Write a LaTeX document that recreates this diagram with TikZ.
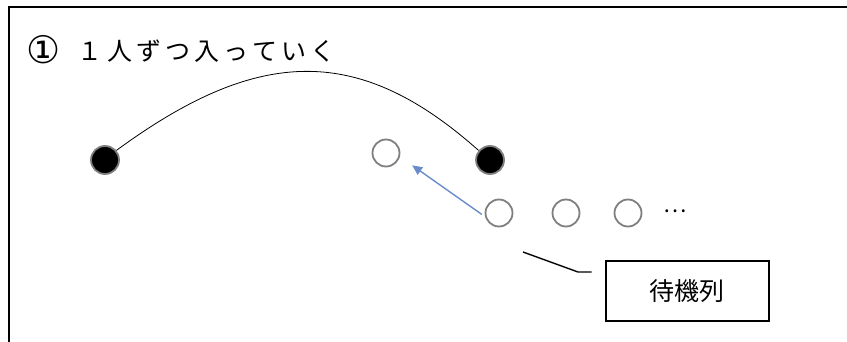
\documentclass[tikz,border=0pt]{standalone}
\usepackage{fontspec}
\newfontfamily\jpfont{Noto Sans CJK JP}
\newfontfamily\circfont{DejaVu Sans}
\usetikzlibrary{arrows.meta}
\definecolor{ringgray}{HTML}{7F7F7F}
\definecolor{arrowblue}{HTML}{6A8CCB}
\begin{document}
\begin{tikzpicture}[x=1pt, y=-1pt,
    seated/.style={circle, fill=black, draw=ringgray, line width=1.8pt, minimum size=28pt, inner sep=0pt},
    guest/.style={circle, fill=white, draw=ringgray, line width=1.8pt, minimum size=27pt, inner sep=0pt},
    label box/.style={draw, line width=2pt, minimum width=163pt, minimum height=60pt, font=\jpfont\fontsize{25}{28}\selectfont}]
\useasboundingbox (0,0) rectangle (847,342);
\draw[line width=1.3pt] (9,342) -- (9,7) -- (847,7);
\node[anchor=west, inner sep=0pt, font=\jpfont\fontsize{25}{28}\selectfont] (title) at (26,50)
    {{\circfont\fontsize{38}{40}\selectfont\raisebox{-0.08em}{①}}\hspace{17pt}１\hspace{5pt}人\hspace{4pt}ず\hspace{4pt}つ\hspace{4pt}入\hspace{4pt}っ\hspace{4pt}て\hspace{4pt}い\hspace{4pt}く};
\node[seated] (left) at (105,160) {};
\node[seated] (right) at (490,160) {};
\draw[line width=0.8pt] (left.40) .. controls (260,45) and (360,45) .. (right.140);
\node[guest] (wait) at (386,153) {};
\foreach \x/\n in {499/q1,566/q2,628/q3}
    \node[guest] (\n) at (\x,213) {};
\node[font=\jpfont\fontsize{22}{26}\selectfont] (dots) at (675,211) {…};
\draw[arrowblue, line width=1.4pt, -{Triangle[length=10pt,width=9pt]}, shorten <=4pt, shorten >=15pt] (q1.195) -- (wait.-15);
\node[label box] (queue) at (687,291) {待機列};
\coordinate (tail) at (523,252);
\draw[line width=1.4pt] (tail) -- (578,272) -- ([xshift=-13pt, yshift=-12pt]queue.north west);
\end{tikzpicture}
\end{document}
